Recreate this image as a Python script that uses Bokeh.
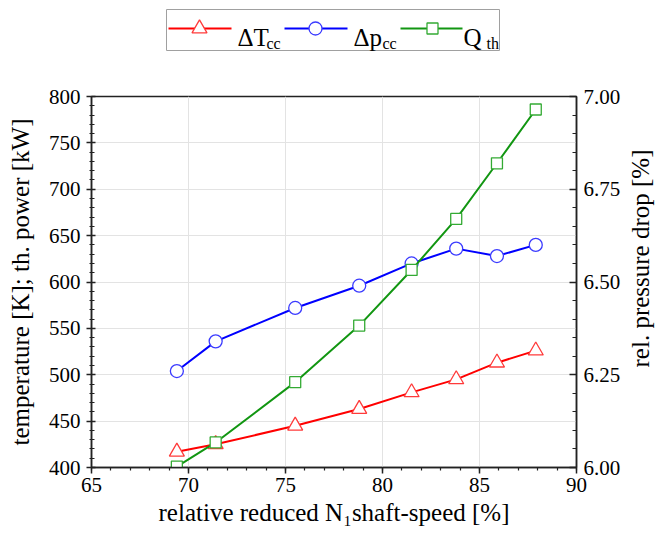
import math
from bokeh.plotting import figure
from bokeh.models import Range1d, LinearAxis, SingleIntervalTicker, PrintfTickFormatter
from bokeh.layouts import column, row
from bokeh.embed import file_html
from bokeh.resources import INLINE
from bokeh.core.properties import value

# ---- data ----
speed = [69.4, 71.4, 75.5, 78.8, 81.5, 83.8, 85.9, 87.9]
dT_cc = [417, 425, 445, 463, 481, 495, 513, 526]
dp_cc = [6.26, 6.34, 6.43, 6.49, 6.55, 6.59, 6.57, 6.60]
Q_th = [401, 427, 492, 553, 613, 668, 728, 786]

x_label = "relative reduced N\u2081shaft-speed [%]"
y_label = "temperature [K]; th. power [kW]"
y2_label = "rel. pressure drop [%]"

FONT = "Liberation Serif"
RED, RED_M = "#ff0000", "#ff3b3b"
BLUE, BLUE_M = "#0000ff", "#3b3bff"
GREEN, GREEN_M = "#129612", "#33aa33"

W, H = 659, 534
LEG_H = 70
RF_W = 36                      # strip holding the right-hand axis title
BL, BR, BT, BB = 91, 45, 26, 67
MAIN_W = W - RF_W
MAIN_H = H - LEG_H

# ---- main plot ----
p = figure(width=MAIN_W, height=MAIN_H, x_range=Range1d(65, 90), y_range=Range1d(400, 800),
           output_backend="svg", toolbar_location=None,
           min_border_left=BL, min_border_right=BR, min_border_top=BT, min_border_bottom=BB)
p.frame_align = False
p.extra_y_ranges = {"p": Range1d(6.0, 7.0)}
p.outline_line_color = "#222222"
p.outline_line_width = 1.5
p.background_fill_color = "white"
p.border_fill_color = "white"

xa = p.xaxis[0]
ya = p.yaxis[0]
xa.ticker = SingleIntervalTicker(interval=5, num_minor_ticks=5)
ya.ticker = SingleIntervalTicker(interval=50, num_minor_ticks=5)
xa.axis_label = x_label
ya.axis_label = y_label

ax2 = LinearAxis(y_range_name="p", ticker=SingleIntervalTicker(interval=0.25, num_minor_ticks=5),
                 formatter=PrintfTickFormatter(format="%.2f"))
p.add_layout(ax2, "right")

for ax in [xa, ya, ax2]:
    ax.axis_line_color = "#222222"
    ax.axis_line_width = 1.5
    ax.major_tick_line_color = "#222222"
    ax.major_tick_line_width = 1.5
    ax.minor_tick_line_color = "#222222"
    ax.minor_tick_line_width = 1.2
    ax.major_label_text_font = FONT
    ax.major_label_text_font_size = "21px"
    ax.major_label_text_color = "black"
    ax.axis_label_text_font = FONT
    ax.axis_label_text_font_size = "25px"
    ax.axis_label_text_font_style = "normal"
    ax.axis_label_text_color = "black"

xa.major_tick_in, xa.major_tick_out = 0, 6
xa.minor_tick_in, xa.minor_tick_out = 0, 3
xa.major_label_standoff = 4
xa.axis_label_standoff = 4

ya.major_tick_in, ya.major_tick_out = 4, 5
ya.minor_tick_in, ya.minor_tick_out = 3, 2
ya.major_label_standoff = 6
ya.axis_label_standoff = 12

ax2.major_tick_in, ax2.major_tick_out = 7, 0
ax2.minor_tick_in, ax2.minor_tick_out = 4, 0
ax2.major_label_standoff = 7

p.xgrid.grid_line_color = "#e3e3e3"
p.ygrid.grid_line_color = "#e3e3e3"
p.xgrid.grid_line_width = 1
p.ygrid.grid_line_width = 1

p.line(speed, dT_cc, line_color=RED, line_width=2)
p.scatter(speed, dT_cc, marker="triangle", size=15, fill_color="white",
          line_color=RED_M, line_width=1.3)

p.line(speed, dp_cc, y_range_name="p", line_color=BLUE, line_width=2)
p.scatter(speed, dp_cc, y_range_name="p", marker="circle", size=13, fill_color="white",
          line_color=BLUE_M, line_width=1.3)

p.line(speed, Q_th, line_color=GREEN, line_width=2)
p.scatter(speed, Q_th, marker="square", size=11, fill_color="white",
          line_color=GREEN_M, line_width=1.3)

# ---- right-hand axis title strip (reads bottom-to-top like the reference) ----
rf = figure(width=RF_W, height=MAIN_H, x_range=Range1d(0, RF_W), y_range=Range1d(MAIN_H, 0),
            output_backend="svg", toolbar_location=None, min_border=0,
            x_axis_type=None, y_axis_type=None)
rf.frame_align = False
rf.grid.visible = False
rf.outline_line_color = None
rf.border_fill_color = "white"
rf.background_fill_color = "white"
rf.text([17], [188], text=[y2_label], angle=math.pi / 2, text_font=value(FONT),
        text_font_size="25px", text_align="center", text_baseline="middle", text_color="black")

# ---- legend strip above the plot (x/y ranges in page pixels of this strip) ----
LBR = W - 578
lf = figure(width=W, height=LEG_H, x_range=Range1d(BL, W - LBR), y_range=Range1d(LEG_H, 0),
            output_backend="svg", toolbar_location=None, min_border=0,
            min_border_left=BL, min_border_right=LBR,
            x_axis_type=None, y_axis_type=None)
lf.frame_align = False
lf.grid.visible = False
lf.outline_line_color = None
lf.border_fill_color = "white"
lf.background_fill_color = "white"

lf.quad(left=[166], right=[499], top=[9], bottom=[50], fill_color="white",
        line_color="#a0a0a0", line_width=1)

legend_items = [
    (168, 231, 199, "triangle", 15, RED, RED_M, "\u0394T", "cc", 237, 266),
    (284, 347, 315, "circle", 13, BLUE, BLUE_M, "\u0394p", "cc", 353, 382),
    (400, 462, 432, "square", 11, GREEN, GREEN_M, "Q", "th", 463, 486),
]
for x0, x1, xm, mk, sz, lc, mc, main, sub, xt, xs in legend_items:
    lf.line([x0, x1], [28, 28], line_color=lc, line_width=2)
    lf.scatter([xm], [28], marker=mk, size=sz, fill_color="white", line_color=mc, line_width=1.3)
    lf.text([xt], [37], text=[main], text_font=value(FONT), text_font_size="25px",
            text_baseline="alphabetic", text_align="left", text_color="black")
    lf.text([xs], [43], text=[sub], text_font=value(FONT), text_font_size="16px",
            text_baseline="alphabetic", text_align="left", text_color="black")

layout = column(lf, row(p, rf, spacing=0), spacing=0)
open("out.html", "w").write(file_html(layout, INLINE))
